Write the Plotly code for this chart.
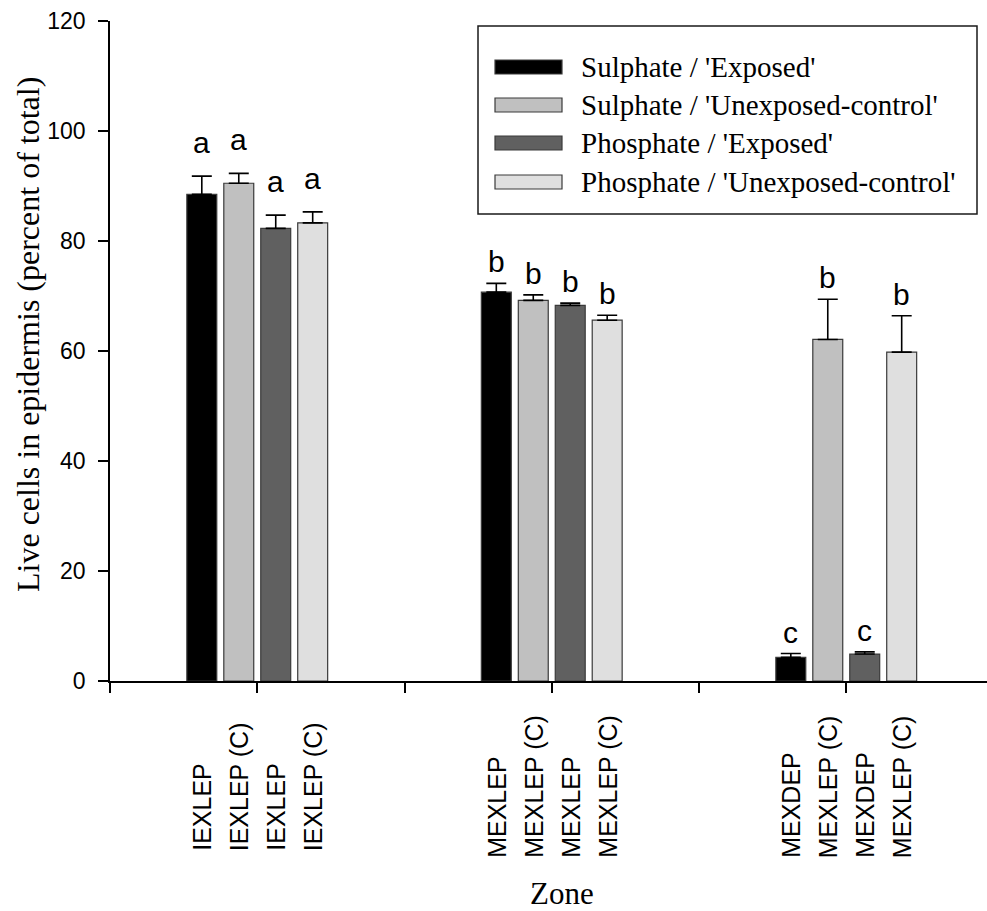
import plotly.graph_objects as go

# ---- data -------------------------------------------------------------
zones = [1, 2, 3]  # group positions on the x axis

series_names = [
    "Sulphate / 'Exposed'",
    "Sulphate / 'Unexposed-control'",
    "Phosphate / 'Exposed'",
    "Phosphate / 'Unexposed-control'",
]

# mean live cells (percent of total), one list per series, one value per zone
sulphate_exposed = [88.5, 70.7, 4.3]
sulphate_control = [90.5, 69.2, 62.1]
phosphate_exposed = [82.3, 68.3, 4.9]
phosphate_control = [83.3, 65.6, 59.8]

# standard errors (upper bars only)
sulphate_exposed_se = [3.3, 1.6, 0.7]
sulphate_control_se = [1.8, 1.0, 7.3]
phosphate_exposed_se = [2.4, 0.4, 0.4]
phosphate_control_se = [2.0, 0.9, 6.6]

# significance letters
sulphate_exposed_sig = ["a", "b", "c"]
sulphate_control_sig = ["a", "b", "b"]
phosphate_exposed_sig = ["a", "b", "c"]
phosphate_control_sig = ["a", "b", "b"]

# zone labels under each bar
sulphate_exposed_lab = ["IEXLEP", "MEXLEP", "MEXDEP"]
sulphate_control_lab = ["IEXLEP (C)", "MEXLEP (C)", "MEXLEP (C)"]
phosphate_exposed_lab = ["IEXLEP", "MEXLEP", "MEXDEP"]
phosphate_control_lab = ["IEXLEP (C)", "MEXLEP (C)", "MEXLEP (C)"]

y_ticks = [0, 20, 40, 60, 80, 100, 120]

# ---- styling ------------------------------------------------------------
fills = ["#000000", "#c0c0c0", "#606060", "#dfdfdf"]
outline = "#3a3a3a"

W, H = 987, 911
L, R, T, B = 110, 0, 21, 230
X_RANGE = [0.5, 0.5 + (W - L - R) / 294.5]
BARGAP = 0.498
GROUPGAP = 0.19


def px_x(px):
    return (px - L) / (W - L - R)


def px_y(py):
    return (H - B - py) / (H - T - B)


values = [sulphate_exposed, sulphate_control, phosphate_exposed, phosphate_control]
errors = [sulphate_exposed_se, sulphate_control_se, phosphate_exposed_se, phosphate_control_se]
letters = [sulphate_exposed_sig, sulphate_control_sig, phosphate_exposed_sig, phosphate_control_sig]
labels = [sulphate_exposed_lab, sulphate_control_lab, phosphate_exposed_lab, phosphate_control_lab]

fig = go.Figure()
for k in range(4):
    fig.add_trace(go.Bar(
        x=zones,
        y=values[k],
        name=series_names[k],
        marker=dict(color=fills[k], line=dict(color=outline, width=1.2)),
        error_y=dict(type="data", array=errors[k], arrayminus=[0] * len(zones),
                     symmetric=False, color="#000000", thickness=1.6, width=10),
        showlegend=False,
    ))

# slot width of one bar inside a group (same geometry plotly uses)
n_series = len(values)
slot = (1 - BARGAP) / n_series

annotations = []
letter_gap = [22, 10, 10]          # pixels between error cap and letter, per zone
label_bottom = [853, 860, 860]     # pixel row where the rotated zone labels start
for k in range(n_series):
    for g, z in enumerate(zones):
        xc = z + (k - (n_series - 1) / 2) * slot
        top = values[k][g] + errors[k][g]
        annotations.append(dict(
            x=xc, y=top, xref="x", yref="y", text=letters[k][g], showarrow=False,
            xanchor="center", yanchor="bottom", yshift=letter_gap[g] - 7,
            font=dict(family="Liberation Sans, Arial", size=30, color="#000000"),
        ))
        annotations.append(dict(
            x=xc, y=px_y(label_bottom[g]), xref="x", yref="paper",
            text=labels[k][g], showarrow=False, textangle=-90,
            xanchor="center", yanchor="bottom",
            font=dict(family="Liberation Sans, Arial", size=25, color="#000000"),
        ))

# axis titles
annotations.append(dict(
    x=px_x(28), y=px_y(335), xref="paper", yref="paper",
    text="Live cells in epidermis (percent of total)", showarrow=False, textangle=-90,
    xanchor="center", yanchor="middle",
    font=dict(family="Liberation Serif, Times New Roman", size=32, color="#000000"),
))
annotations.append(dict(
    x=px_x(562), y=px_y(893), xref="paper", yref="paper",
    text="Zone", showarrow=False, xanchor="center", yanchor="middle",
    font=dict(family="Liberation Serif, Times New Roman", size=31, color="#000000"),
))

# legend box drawn with shapes and text
shapes = [dict(type="rect", xref="paper", yref="paper",
               x0=px_x(478), x1=px_x(977), y0=px_y(26), y1=px_y(214),
               line=dict(color="#1a1a1a", width=1.5), fillcolor="#ffffff", layer="above")]
row_centers = [67, 105, 143, 182]
for k in range(n_series):
    yc = row_centers[k]
    shapes.append(dict(type="rect", xref="paper", yref="paper",
                       x0=px_x(495), x1=px_x(562), y0=px_y(yc + 7), y1=px_y(yc - 7),
                       line=dict(color=outline, width=1.2), fillcolor=fills[k], layer="above"))
    annotations.append(dict(
        x=px_x(579), y=px_y(yc), xref="paper", yref="paper", text=series_names[k],
        showarrow=False, xanchor="left", yanchor="middle",
        font=dict(family="Liberation Serif, Times New Roman", size=29, color="#000000"),
    ))

fig.update_layout(
    width=W, height=H,
    margin=dict(l=L, r=R, t=T, b=B, pad=0),
    paper_bgcolor="#ffffff", plot_bgcolor="#ffffff",
    barmode="group", bargap=BARGAP, bargroupgap=GROUPGAP,
    annotations=annotations, shapes=shapes,
    showlegend=False,
)
fig.update_xaxes(
    range=X_RANGE, showgrid=False, zeroline=False,
    showline=True, linecolor="#000000", linewidth=2.2,
    tickmode="array", tickvals=[0.5, 1, 1.5, 2, 2.5, 3],
    ticks="outside", ticklen=10, tickwidth=1.6, tickcolor="#000000",
    showticklabels=False,
)
fig.update_yaxes(
    range=[0, 120], showgrid=False, zeroline=False,
    showline=True, linecolor="#000000", linewidth=1.6,
    tickmode="array", tickvals=y_ticks,
    ticks="outside", ticklen=10, tickwidth=1.6, tickcolor="#000000",
    ticklabelstandoff=8,
    tickfont=dict(family="Liberation Sans, Arial", size=23, color="#000000"),
)

fig.write_html("out.html")
